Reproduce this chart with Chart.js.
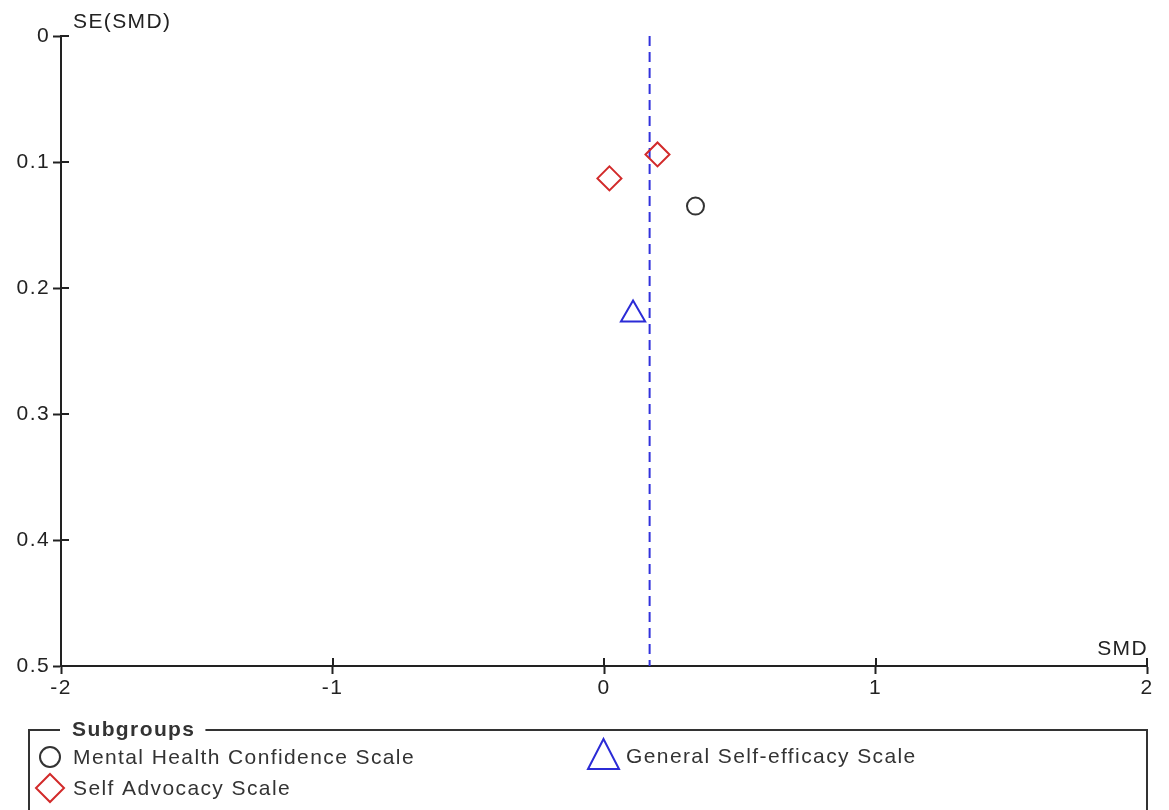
<!DOCTYPE html>
<html>
<head>
<meta charset="utf-8">
<title>Funnel plot</title>
<script src="https://cdn.jsdelivr.net/npm/chart.js@4.4.1/dist/chart.umd.min.js"></script>
<style>
  html, body { margin: 0; padding: 0; background: #fff; }
  #wrap { position: relative; width: 1169px; height: 810px; overflow: hidden; }
  canvas { display: block; }
</style>
</head>
<body>
<div id="wrap"><canvas id="funnel" width="1169" height="810"></canvas></div>
<script>
// Subgroup names, in legend order
const subgroupNames = ['Mental Health Confidence Scale', 'General Self-efficacy Scale', 'Self Advocacy Scale'];

// Study effects: standardised mean difference and its standard error
const mhcsSMD = [0.337];
const mhcsSE  = [0.135];
const gsesSMD = [0.107];
const gsesSE  = [0.221];
const sasSMD  = [0.197, 0.020];
const sasSE   = [0.094, 0.113];

// Pooled estimate (dashed reference line)
const pooledSMD = 0.168;

// Axis ticks and their labels
const smdTicks = [-2, -1, 0, 1, 2];
const smdTickLabels = ['-2', '-1', '0', '1', '2'];
const seTicks = [0, 0.1, 0.2, 0.3, 0.4, 0.5];
const seTickLabels = ['0', '0.1', '0.2', '0.3', '0.4', '0.5'];

const FONT = "'Liberation Sans', Arial, Helvetica, sans-serif";
const FONT_SIZE = 21;
const SPACING = '1.4px';
const AXIS_COLOR = '#222';
const TEXT_COLOR = '#222';
const LEGEND_TEXT = '#333';

function points(xs, ys) {
  return xs.map((x, i) => ({ x: x, y: ys[i] }));
}

// Wider glyph spacing for every piece of canvas text
const letterSpacing = {
  id: 'letterSpacing',
  beforeLayout(chart) { chart.ctx.letterSpacing = SPACING; },
  beforeDraw(chart) { chart.ctx.letterSpacing = SPACING; }
};

// Tick marks that cross the axis line, axis captions, and the subgroup legend box
const funnelDecor = {
  id: 'funnelDecor',
  afterDraw(chart) {
    const ctx = chart.ctx;
    const xs = chart.scales.x, ys = chart.scales.y;
    const area = chart.chartArea;
    ctx.save();
    ctx.letterSpacing = SPACING;
    ctx.strokeStyle = AXIS_COLOR;
    ctx.lineWidth = 2;
    ctx.beginPath();
    xs.ticks.forEach(t => {
      const px = Math.round(xs.getPixelForValue(t.value));
      ctx.moveTo(px, area.bottom);
      ctx.lineTo(px, area.bottom - 8);
    });
    ys.ticks.forEach(t => {
      const py = Math.round(ys.getPixelForValue(t.value));
      ctx.moveTo(area.left, py);
      ctx.lineTo(area.left + 8, py);
    });
    ctx.stroke();

    // Axis captions
    ctx.fillStyle = TEXT_COLOR;
    ctx.font = FONT_SIZE + 'px ' + FONT;
    ctx.textBaseline = 'alphabetic';
    ctx.textAlign = 'left';
    ctx.fillText('SE(SMD)', area.left + 12, 28);
    ctx.textAlign = 'right';
    ctx.fillText('SMD', area.right + 1, 655);

    // Legend frame with title set into the top border
    const boxL = 29, boxT = 730, boxR = 1147, boxB = 830;
    ctx.font = 'bold ' + FONT_SIZE + 'px ' + FONT;
    ctx.textAlign = 'left';
    ctx.textBaseline = 'middle';
    const title = 'Subgroups';
    const titleX = 72;
    const titleW = ctx.measureText(title).width;
    ctx.strokeStyle = '#333';
    ctx.lineWidth = 2;
    ctx.beginPath();
    ctx.moveTo(titleX - 12, boxT);
    ctx.lineTo(boxL, boxT);
    ctx.lineTo(boxL, boxB);
    ctx.lineTo(boxR, boxB);
    ctx.lineTo(boxR, boxT);
    ctx.lineTo(titleX + titleW + 10, boxT);
    ctx.stroke();
    ctx.fillStyle = '#333';
    ctx.fillText(title, titleX, boxT);

    // Legend entries: marker + name, taken from the datasets
    const slots = [
      { mx: 50, my: 757, tx: 73 },
      { mx: 603.5, my: 756, tx: 626 },
      { mx: 50, my: 788, tx: 73 }
    ];
    ctx.font = FONT_SIZE + 'px ' + FONT;
    chart.data.datasets.forEach(ds => {
      if (ds.legendIndex === undefined) return;
      const s = slots[ds.legendIndex];
      ctx.strokeStyle = ds.borderColor;
      ctx.lineWidth = 2;
      ctx.beginPath();
      if (ds.pointStyle === 'circle') {
        ctx.arc(s.mx, s.my, 10, 0, Math.PI * 2);
      } else if (ds.pointStyle === 'triangle') {
        ctx.moveTo(s.mx, s.my - 17);
        ctx.lineTo(s.mx + 15.5, s.my + 13);
        ctx.lineTo(s.mx - 15.5, s.my + 13);
        ctx.closePath();
      } else {
        ctx.moveTo(s.mx, s.my - 14);
        ctx.lineTo(s.mx + 14, s.my);
        ctx.lineTo(s.mx, s.my + 14);
        ctx.lineTo(s.mx - 14, s.my);
        ctx.closePath();
      }
      ctx.stroke();
      ctx.fillStyle = LEGEND_TEXT;
      ctx.fillText(ds.label, s.tx, s.my + 1);
    });
    ctx.restore();
  }
};

const markerBase = {
  backgroundColor: 'rgba(0,0,0,0)',
  borderWidth: 2,
  pointBorderWidth: 2,
  order: 0
};

new Chart(document.getElementById('funnel'), {
  type: 'scatter',
  data: {
    datasets: [
      Object.assign({}, markerBase, {
        label: subgroupNames[0], legendIndex: 0,
        data: points(mhcsSMD, mhcsSE),
        pointStyle: 'circle', pointRadius: 8.5, pointHoverRadius: 8.5,
        borderColor: '#333333'
      }),
      Object.assign({}, markerBase, {
        label: subgroupNames[1], legendIndex: 1,
        data: points(gsesSMD, gsesSE),
        pointStyle: 'triangle', pointRadius: 14, pointHoverRadius: 14,
        borderColor: '#2b2bd6'
      }),
      Object.assign({}, markerBase, {
        label: subgroupNames[2], legendIndex: 2,
        data: points(sasSMD, sasSE),
        pointStyle: 'rectRot', pointRadius: 12, pointHoverRadius: 12,
        borderColor: '#d22a2a'
      }),
      {
        label: 'Pooled SMD',
        type: 'line',
        data: [{ x: pooledSMD, y: seTicks[0] }, { x: pooledSMD, y: seTicks[seTicks.length - 1] }],
        borderColor: '#3232dc',
        borderWidth: 2,
        borderDash: [10, 6],
        pointRadius: 0,
        fill: false,
        order: 10
      }
    ]
  },
  options: {
    responsive: false,
    animation: false,
    events: [],
    devicePixelRatio: 1,
    layout: { padding: { left: 0, top: 36, right: 22, bottom: 114 } },
    plugins: {
      legend: { display: false },
      tooltip: { enabled: false },
      title: { display: false }
    },
    scales: {
      x: {
        type: 'linear',
        min: smdTicks[0],
        max: smdTicks[smdTicks.length - 1],
        afterFit(s) { s.height = 30; },
        afterBuildTicks(s) { s.ticks = smdTicks.map(v => ({ value: v })); },
        ticks: {
          autoSkip: false,
          maxRotation: 0,
          padding: 2,
          color: TEXT_COLOR,
          font: { family: FONT, size: FONT_SIZE },
          callback: (v, i) => smdTickLabels[i]
        },
        grid: { display: true, drawOnChartArea: false, drawTicks: true, tickLength: 8, tickColor: AXIS_COLOR, tickWidth: 2 },
        border: { display: true, color: AXIS_COLOR, width: 2 }
      },
      y: {
        type: 'linear',
        reverse: true,
        min: seTicks[0],
        max: seTicks[seTicks.length - 1],
        afterFit(s) { s.width = 61; },
        afterBuildTicks(s) { s.ticks = seTicks.map(v => ({ value: v })); },
        ticks: {
          autoSkip: false,
          padding: 3,
          color: TEXT_COLOR,
          font: { family: FONT, size: FONT_SIZE },
          callback: (v, i) => seTickLabels[i]
        },
        grid: { display: true, drawOnChartArea: false, drawTicks: true, tickLength: 8, tickColor: AXIS_COLOR, tickWidth: 2 },
        border: { display: true, color: AXIS_COLOR, width: 2 }
      }
    }
  },
  plugins: [letterSpacing, funnelDecor]
});
</script>
</body>
</html>
